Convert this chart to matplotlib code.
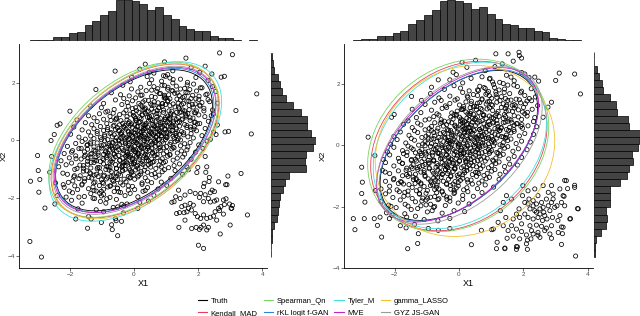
import numpy as np
import matplotlib.pyplot as plt
from matplotlib.patches import Ellipse
from matplotlib.lines import Line2D

plt.rcParams['font.family'] = ['Liberation Sans', 'DejaVu Sans']

methods = ['Truth', 'Kendall_MAD', 'Spearman_Qn', 'rKL logit f-GAN', 'Tyler_M', 'MVE', 'gamma_LASSO', 'GYZ JS-GAN']
colors = ['#000000', '#E8405A', '#77D65B', '#2B83E0', '#3FE0E0', '#CC1FCC', '#F2C12E', '#9A9A9A']

# estimated location / scale / correlation of each method (cx, cy, sdx, sdy, rho)
ell_left = [(0, 0, 1.0, 1.0, 0.5), (0.03, -0.02, 1.07, 1.09, 0.48), (-0.02, 0.02, 1.08, 1.10, 0.47),
            (0.02, 0.0, 1.01, 1.02, 0.5), (0.04, -0.04, 1.10, 1.13, 0.5), (0.03, 0.01, 1.03, 1.03, 0.5),
            (0.05, -0.03, 1.07, 1.10, 0.47), (0.02, 0.0, 1.04, 1.05, 0.5)]
ell_right = [(0, 0, 1.0, 1.0, 0.5), (0.0, -0.02, 1.12, 1.13, 0.24), (-0.02, 0.0, 1.15, 1.15, 0.22),
             (0.0, 0.0, 1.01, 1.01, 0.51), (0.03, 0.0, 1.10, 1.11, 0.27), (-0.04, 0.02, 1.03, 1.03, 0.52),
             (0.19, -0.18, 1.14, 1.14, 0.12), (0.02, 0.0, 1.05, 1.05, 0.48)]

# marginal histogram heights
top_left = [2, 3, 3, 13, 13, 24, 27, 49, 60, 77, 89, 122, 122, 120, 110, 91, 101, 77, 65, 44, 37, 29, 29, 15, 9, 8, 2, 1, 2]
top_right = [2, 5, 5, 14, 14, 25, 29, 50, 62, 78, 92, 119, 122, 120, 113, 95, 101, 80, 66, 50, 47, 39, 38, 29, 26, 8, 5, 2, 3]
side_left = [1, 0, 2, 4, 10, 17, 22, 24, 27, 37, 43, 55, 104, 102, 104, 127, 135, 119, 107, 107, 90, 65, 44, 34, 27, 20, 10, 7, 3]
side_right = [2, 4, 7, 21, 35, 39, 37, 49, 49, 47, 77, 97, 104, 115, 114, 132, 135, 137, 105, 102, 69, 67, 47, 27, 23, 15, 9, 1, 1]
top_left_rng = (-3.25, 3.83)
top_right_rng = (-3.28, 3.79)
side_left_rng = (-4.04, 3.04)
side_right_rng = (-3.60, 3.05)

core_left = [
(0.95,2.72),(1.62,2.85),(0.35,2.64),(1.21,2.41),(0.62,2.33),(1.78,2.52),(1.05,2.28),(2.05,2.36),(0.18,2.47),
(1.45,2.12),(0.86,2.05),(1.93,2.18),(0.41,2.21),(1.12,2.16),(2.31,2.08),(-0.12,2.03),(1.67,2.01),(0.98,2.22),(0.55,2.10),
(1.32,1.88),(0.74,1.79),(1.86,1.95),(0.21,1.84),(1.05,1.77),(2.12,1.82),(-0.35,1.91),(1.58,1.80),(0.48,1.97),(0.95,1.90),(2.45,1.86),(-0.08,1.78),(1.21,1.99),(0.62,1.86),(1.74,1.76),
(0.83,1.62),(1.41,1.55),(0.12,1.68),(1.95,1.71),(0.55,1.52),(1.18,1.73),(-0.42,1.58),(2.28,1.60),(0.95,1.51),(1.62,1.66),(-0.15,1.54),(0.38,1.72),(1.35,1.64),(2.03,1.53),(0.71,1.70),(-0.71,1.65),(1.08,1.58),(1.83,1.56),(0.25,1.57),(2.55,1.69),
(0.45,1.38),(1.12,1.44),(-0.21,1.31),(0.88,1.27),(1.65,1.36),(0.05,1.47),(1.38,1.29),(2.02,1.42),(-0.58,1.40),(0.66,1.49),(1.91,1.26),(0.28,1.33),(1.05,1.35),(-0.95,1.28),(1.52,1.48),(2.36,1.34),(0.75,1.30),(-0.32,1.45),(1.22,1.26),(0.15,1.28),(1.78,1.45),(0.52,1.26),(0.98,1.46),(-0.05,1.37),(2.61,1.29),(1.45,1.40),
(0.35,1.12),(0.92,1.05),(-0.18,1.18),(1.41,1.09),(0.62,1.22),(1.85,1.15),(-0.62,1.07),(1.12,1.20),(0.08,1.03),(2.18,1.11),(0.78,1.14),(-0.38,1.24),(1.58,1.02),(0.45,1.01),(1.28,1.16),(-1.02,1.13),(0.21,1.22),(2.45,1.05),(0.98,1.24),(1.72,1.21),(-0.82,1.01),(0.55,1.08),(1.95,1.02),(-0.05,1.10),(1.18,1.01),(0.72,1.03),(-1.35,1.19),(1.48,1.23),(0.28,1.06),(2.05,1.22),(-0.25,1.04),(0.88,1.18),
(0.25,0.88),(0.71,0.81),(-0.32,0.95),(1.15,0.92),(0.48,0.78),(1.62,0.86),(-0.75,0.83),(0.92,0.97),(0.05,0.76),(1.38,0.79),(-0.12,0.91),(1.92,0.95),(0.62,0.99),(-0.55,0.77),(1.05,0.84),(2.21,0.82),(0.35,0.94),(-1.08,0.92),(1.48,0.98),(0.82,0.76),(-0.22,0.82),(1.75,0.78),(0.15,0.97),(-0.88,0.98),(1.25,0.88),(0.55,0.85),(2.48,0.91),(-1.42,0.85),(0.98,0.79),(-0.45,0.89),(1.68,0.93),(0.42,0.80),(-0.02,0.86),(1.32,0.96),(0.78,0.92),(-1.25,0.78),(2.02,0.88),(0.18,0.79),(1.12,0.77),(-0.65,0.94),
(0.15,0.62),(0.58,0.55),(-0.41,0.68),(0.98,0.71),(0.32,0.52),(1.42,0.64),(-0.85,0.58),(0.75,0.73),(-0.08,0.57),(1.18,0.53),(-0.22,0.71),(1.75,0.69),(0.45,0.66),(-0.62,0.52),(0.88,0.60),(2.05,0.58),(0.22,0.74),(-1.15,0.65),(1.32,0.72),(0.62,0.51),(-0.35,0.59),(1.58,0.55),(0.05,0.70),(-0.95,0.73),(1.05,0.65),(0.38,0.59),(2.32,0.66),(-1.52,0.61),(0.82,0.54),(-0.55,0.74),(1.52,0.74),(0.28,0.56),(-0.15,0.64),(1.22,0.60),(0.68,0.67),(-1.32,0.54),(1.88,0.62),(0.02,0.53),(0.95,0.52),(-0.72,0.69),(1.65,0.51),(-1.78,0.71),(0.52,0.71),(2.6,0.53),(-0.28,0.52),(1.12,0.74),
(0.05,0.38),(0.48,0.31),(-0.52,0.44),(0.88,0.46),(0.22,0.27),(1.32,0.39),(-0.95,0.34),(0.65,0.48),(-0.18,0.32),(1.08,0.28),(-0.32,0.47),(1.65,0.44),(0.35,0.41),(-0.72,0.27),(0.78,0.35),(1.95,0.33),(0.12,0.49),(-1.25,0.40),(1.22,0.47),(0.52,0.26),(-0.45,0.34),(1.48,0.30),(-0.05,0.45),(-1.05,0.48),(0.95,0.40),(0.28,0.34),(2.22,0.41),(-1.62,0.36),(0.72,0.29),(-0.65,0.49),(1.42,0.49),(0.18,0.31),(-0.25,0.39),(1.12,0.35),(0.58,0.42),(-1.42,0.29),(1.78,0.37),(-0.08,0.28),(0.85,0.27),(-0.82,0.44),(1.55,0.26),(-1.88,0.46),(0.42,0.46),(2.48,0.28),(-0.38,0.27),(1.02,0.49),(-1.15,0.31),(0.32,0.39),(1.88,0.48),(-0.58,0.37),
(-0.05,0.12),(0.38,0.06),(-0.62,0.19),(0.78,0.21),(0.12,0.02),(1.22,0.14),(-1.05,0.09),(0.55,0.23),(-0.28,0.07),(0.98,0.03),(-0.42,0.22),(1.55,0.19),(0.25,0.16),(-0.82,0.02),(0.68,0.10),(1.85,0.08),(0.02,0.24),(-1.35,0.15),(1.12,0.22),(0.42,0.01),(-0.55,0.09),(1.38,0.05),(-0.15,0.20),(-1.15,0.23),(0.85,0.15),(0.18,0.09),(2.12,0.16),(-1.72,0.11),(0.62,0.04),(-0.75,0.24),(1.32,0.24),(0.08,0.06),(-0.35,0.14),(1.02,0.10),(0.48,0.17),(-1.52,0.04),(1.68,0.12),(-0.18,0.03),(0.75,0.02),(-0.92,0.19),(1.45,0.01),(-1.98,0.21),(0.32,0.21),(2.38,0.03),(-0.48,0.02),(0.92,0.24),(-1.25,0.06),(0.22,0.14),(1.78,0.23),(-0.68,0.12),(1.25,0.07),(-0.08,0.18),
(-0.15,-0.12),(0.28,-0.06),(-0.72,-0.19),(0.68,-0.21),(0.02,-0.02),(1.12,-0.14),(-1.15,-0.09),(0.45,-0.23),(-0.38,-0.07),(0.88,-0.03),(-0.52,-0.22),(1.45,-0.19),(0.15,-0.16),(-0.92,-0.02),(0.58,-0.10),(1.75,-0.08),(-0.08,-0.24),(-1.45,-0.15),(1.02,-0.22),(0.32,-0.01),(-0.65,-0.09),(1.28,-0.05),(-0.25,-0.20),(-1.25,-0.23),(0.75,-0.15),(0.08,-0.09),(2.02,-0.16),(-1.82,-0.11),(0.52,-0.04),(-0.85,-0.24),(1.22,-0.24),(-0.02,-0.06),(-0.45,-0.14),(0.92,-0.10),(0.38,-0.17),(-1.62,-0.04),(1.58,-0.12),(-0.28,-0.03),(0.65,-0.02),(-1.02,-0.19),(1.35,-0.01),(-2.08,-0.21),(0.22,-0.21),(2.28,-0.03),(-0.58,-0.02),(0.82,-0.24),(-1.35,-0.06),(0.12,-0.14),(1.68,-0.23),(-0.78,-0.12),(1.15,-0.07),(-0.18,-0.18),
(-0.25,-0.38),(0.18,-0.31),(-0.82,-0.44),(0.58,-0.46),(-0.12,-0.27),(1.02,-0.39),(-1.25,-0.34),(0.35,-0.48),(-0.48,-0.32),(0.78,-0.28),(-0.62,-0.47),(1.35,-0.44),(0.05,-0.41),(-1.02,-0.27),(0.48,-0.35),(1.65,-0.33),(-0.18,-0.49),(-1.55,-0.40),(0.92,-0.47),(0.22,-0.26),(-0.75,-0.34),(1.18,-0.30),(-0.35,-0.45),(-1.35,-0.48),(0.65,-0.40),(-0.02,-0.34),(1.92,-0.41),(-1.92,-0.36),(0.42,-0.29),(-0.95,-0.49),(1.12,-0.49),(-0.12,-0.31),(-0.55,-0.39),(0.82,-0.35),(0.28,-0.42),(-1.72,-0.29),(1.48,-0.37),(-0.38,-0.28),(0.55,-0.27),(-1.12,-0.44),(1.25,-0.26),(-2.18,-0.46),(0.12,-0.46),(2.15,-0.28),(-0.68,-0.27),(0.72,-0.49),(-1.45,-0.31),(0.02,-0.39),(1.58,-0.48),(-0.88,-0.37),
(-0.35,-0.62),(0.08,-0.55),(-0.95,-0.68),(0.45,-0.71),(-0.22,-0.52),(0.88,-0.64),(-1.35,-0.58),(0.25,-0.73),(-0.58,-0.57),(0.65,-0.53),(-0.72,-0.71),(1.22,-0.69),(-0.05,-0.66),(-1.12,-0.52),(0.38,-0.60),(1.52,-0.58),(-0.28,-0.74),(-1.65,-0.65),(0.82,-0.72),(0.12,-0.51),(-0.85,-0.59),(1.05,-0.55),(-0.45,-0.70),(-1.45,-0.73),(0.55,-0.65),(-0.12,-0.59),(1.78,-0.66),(-2.02,-0.61),(0.32,-0.54),(-1.05,-0.74),(0.98,-0.74),(-0.18,-0.56),(-0.65,-0.64),(0.72,-0.60),(0.18,-0.67),(-1.82,-0.54),(1.35,-0.62),(-0.48,-0.53),(0.42,-0.52),(-1.22,-0.69),(1.12,-0.51),(-2.28,-0.71),(0.02,-0.71),(-0.78,-0.52),(0.62,-0.74),(-1.55,-0.56),
(-0.45,-0.88),(-0.02,-0.81),(-1.08,-0.95),(0.35,-0.92),(-0.32,-0.78),(0.78,-0.86),(-1.45,-0.83),(0.12,-0.97),(-0.68,-0.76),(0.52,-0.79),(-0.85,-0.91),(1.08,-0.95),(-0.15,-0.99),(-1.25,-0.77),(0.28,-0.84),(1.42,-0.82),(-0.38,-0.92),(-1.78,-0.98),(0.68,-0.98),(0.02,-0.76),(-0.95,-0.82),(0.92,-0.78),(-0.55,-0.97),(-1.58,-0.88),(0.45,-0.85),(-0.22,-0.79),(1.65,-0.93),(-2.12,-0.85),(0.22,-0.80),(-1.15,-0.99),(0.85,-0.92),(-0.28,-0.87),(-0.75,-0.94),(0.58,-0.76),(0.08,-0.91),(-1.95,-0.79),(1.25,-0.88),(-0.58,-0.84),(-1.35,-0.96),(-0.08,-0.86),
(-0.55,-1.12),(-0.12,-1.05),(-1.18,-1.18),(0.22,-1.09),(-0.42,-1.22),(0.65,-1.15),(-1.58,-1.07),(-0.02,-1.20),(-0.78,-1.03),(0.42,-1.11),(-0.95,-1.24),(0.95,-1.02),(-0.28,-1.01),(-1.35,-1.16),(0.15,-1.22),(1.28,-1.05),(-0.65,-1.24),(-1.85,-1.01),(0.55,-1.19),(-0.08,-1.13),(-1.05,-1.10),(0.78,-1.21),(-0.35,-1.06),(-1.68,-1.23),(0.32,-1.04),(1.52,-1.18),(-2.22,-1.14),(-0.88,-1.01),(0.05,-1.03),(-1.25,-1.21),(-0.48,-1.17),(0.88,-1.09),
(-0.68,-1.38),(-0.25,-1.44),(-1.32,-1.31),(0.12,-1.27),(-0.52,-1.36),(0.55,-1.47),(-1.72,-1.33),(-0.12,-1.29),(-0.95,-1.49),(0.35,-1.30),(-1.12,-1.26),(0.85,-1.45),(-0.42,-1.48),(-1.55,-1.42),(0.02,-1.35),(1.15,-1.32),(-0.82,-1.28),(-2.05,-1.46),(0.42,-1.41),(-0.18,-1.26),(-1.22,-1.45),(0.68,-1.28),(-0.58,-1.29),(-1.88,-1.27),(0.25,-1.48),(-1.02,-1.37),
(-0.82,-1.62),(-0.35,-1.55),(-1.42,-1.68),(0.02,-1.71),(-0.62,-1.52),(0.42,-1.64),(-1.85,-1.58),(-0.18,-1.73),(-1.08,-1.57),(0.25,-1.53),(-1.25,-1.74),(0.75,-1.69),(-0.52,-1.66),(-1.62,-1.52),(-0.05,-1.60),(1.02,-1.56),(-0.95,-1.70),(-2.18,-1.63),(0.35,-1.74),(-0.75,-1.58),
(-0.95,-1.88),(-0.48,-1.79),(-1.55,-1.95),(-0.12,-1.84),(-0.75,-1.98),(0.28,-1.77),(-1.92,-1.82),(-0.28,-1.92),(-1.18,-1.76),(0.12,-1.96),(-1.35,-1.85),(0.62,-1.91),(-0.62,-1.78),(-2.12,-1.97),(-1.02,-1.93),
(-1.05,-2.12),(-0.55,-2.05),(-1.62,-2.18),(-0.22,-2.21),(-0.85,-2.03),(0.18,-2.15),(-1.95,-2.08),(-0.38,-2.22),(-1.28,-2.01),(0.45,-2.11),
(-1.18,-2.41),(-0.65,-2.33),(-1.75,-2.38),(-0.32,-2.28),(-0.95,-2.48),(0.12,-2.36),(-1.42,-2.65),(-0.58,-2.72),(-1.02,-2.85)]

core_left2 = [
(0.73,0.41),(-0.36,-0.87),(1.27,1.63),(-0.91,0.14),(0.04,-0.33),(0.56,1.22),(-1.48,-1.06),(1.84,0.77),(-0.17,0.58),(0.39,-0.71),(-0.64,-1.42),(1.03,0.09),(-1.21,-0.38),(0.87,1.91),(-0.03,0.96),(0.21,-1.17),(1.52,1.05),(-0.79,-0.19),(0.66,0.27),(-1.63,-1.55),(0.12,0.35),(1.36,0.62),(-0.47,-0.02),(-1.07,-1.84),(0.94,1.47),(-0.26,-0.56),(0.48,0.83),(1.71,1.36),(-1.34,-0.77),(0.31,-0.14),(-0.58,0.71),(1.16,0.48),(-0.13,-1.31),(0.79,0.03),(-1.86,-1.23),(2.06,1.19),(-0.39,0.22),(0.58,-0.42),(-0.97,-0.63),(1.45,1.78),(0.07,0.68),(-0.71,-1.09),(1.09,1.02),(-1.28,-1.62),(0.36,0.53),(0.92,-0.26),(-0.22,0.11),(1.61,0.91),(-1.52,-0.51),(0.17,-0.58),(-0.83,0.37),(2.24,1.58),(0.63,1.33),(-0.09,-0.81),(1.28,0.24),(-1.13,-0.94),(0.44,0.06),(-0.52,-1.66),(1.82,1.24),(0.02,-0.21),(-1.69,-0.86),(0.83,0.61),(-0.31,0.44),(1.21,1.71),(-0.86,-1.34),(0.27,0.88),(1.98,0.57),(-0.66,-0.31),(0.52,-0.93),(-1.41,-1.29),(1.39,1.15),(-0.18,0.29),(0.71,0.93),(-1.02,0.02),(0.14,-0.47),(1.57,1.52),(-0.44,-0.69),(0.98,0.38),(-1.76,-1.71),(0.33,1.08),
(-0.27,-0.11),(0.61,0.19),(-1.17,-0.71),(1.13,0.84),(0.09,0.47),(-0.62,-0.48),(1.49,0.71),(-0.04,-0.63),(0.41,0.99),(-1.38,-1.13),(0.86,0.16),(-0.49,0.33),(1.72,1.06),(0.24,-0.27),(-0.93,-1.21),(1.06,1.38),(-0.15,0.07),(0.54,-0.16),(-1.58,-0.97),(1.31,0.43),(0.02,0.81),(-0.75,-0.76),(0.77,1.12),(-0.33,-0.36),(1.93,1.44),(0.46,0.22),(-1.09,-0.27),(0.19,0.64),(-0.55,-0.99),(1.24,0.66),(-0.07,-0.04),(0.67,-0.08),(-1.26,-1.48),(1.54,1.27),(0.29,0.42),(-0.84,-0.53),(0.96,0.73),(-0.41,0.08),(2.12,1.31),(0.11,-0.87),(-1.44,-0.62),(0.74,0.51),(-0.21,-0.42),(1.43,0.97),(-0.68,-0.07),(0.37,-0.36),(-1.91,-1.41),(1.02,0.26),(-0.12,0.52),(0.58,0.69),(-0.99,-1.46),(1.68,1.65),(0.16,0.19),(-0.36,-1.04),(0.89,1.27),(-1.32,-0.46),(0.43,-0.22),(1.19,0.34),(-0.59,-0.24),(0.06,0.16),(-0.81,-0.92),(1.34,1.43),(0.53,0.39),(-0.24,-0.74),(0.81,0.31),(-1.54,-1.33),(1.62,0.81),(-0.02,0.26),(0.38,-0.61),(-0.72,-1.26),(1.11,0.59),(0.26,1.16),(-1.19,-0.58),(0.69,0.12),(-0.46,0.53),(1.88,0.96),(-0.11,-0.52),(0.95,1.56),(-0.89,-0.41),(0.31,0.12),
(-1.65,-0.28),(1.76,0.46),(-0.42,-1.81),(0.55,1.74),(-2.08,-1.18),(2.18,1.02),(-1.23,-2.02),(1.22,2.11),(-0.18,-1.58),(0.21,1.56),(-1.81,-0.64),(1.91,0.63),(-0.74,-1.59),(0.79,1.62),(-2.21,-1.54),(2.31,1.41),(-1.02,-1.77),(1.06,1.84),(-1.47,-0.18),(1.42,0.21),(-0.31,-1.35),(0.34,1.39),(-2.35,-0.92),(2.41,0.85),(-0.88,-2.18),(0.92,2.24),(-1.72,-1.97),(1.66,1.92),(-0.07,-1.09),(0.05,1.13),(-1.95,-0.41),(1.87,0.39),(-0.51,-2.31),(0.48,2.36),(-1.36,-0.12),(1.31,0.16),(-2.02,-1.76),(2.07,1.82),(-0.95,-0.16),(0.99,0.12)]

edge_left = [(2.67,3.03),(3.07,2.97),(2.22,2.57),(2.43,2.30),(2.72,2.19),(2.82,2.22),(3.83,1.61),(3.18,1.03),(2.95,0.31),(2.84,0.29),(3.66,0.22),(2.56,0.20),(2.22,-0.56),(1.99,-0.94),(1.70,-1.02),
(-3.25,-3.51),(-2.89,-4.05),(-3.01,-0.53),(-2.99,-1.05),(-3.23,-1.42),(-2.94,-1.36),(-2.97,-1.80),(-2.78,-2.35),(-2.63,-1.11),(-2.57,-0.56),(-2.59,-0.01),(-2.49,0.20),(-2.40,0.52),(-2.31,0.57),(-2.45,-1.48),(-2.39,-1.92),(-2.47,-2.21),(-1.82,-2.73),(-1.45,-3.05),(-1.34,-2.73),(-0.70,-2.93),(-0.68,-3.10),(-0.51,-3.31),(-0.39,-2.81),(-0.56,-2.79),(-0.33,-2.52),(-0.59,2.40),(-0.07,2.19),(-1.19,1.76),(-2.0,1.01)]

clus_left = [(3.34,-1.15),(2.93,-1.24),(2.86,-1.54),(2.90,-1.54),(2.64,-1.44),(2.35,-1.29),(2.34,-1.43),(2.19,-1.49),(2.17,-1.61),(2.24,-1.11),(1.96,-1.12),(2.27,-0.92),(2.44,-1.73),(2.51,-1.78),(2.38,-1.82),(2.08,-1.84),(2.22,-1.89),(2.04,-1.98),(2.32,-2.02),(2.17,-2.13),(2.38,-2.14),(2.51,-2.11),(2.58,-2.07),(2.79,-2.07),(2.87,-2.03),(2.98,-2.21),(3.07,-2.26),(3.03,-2.36),(2.82,-2.23),(2.71,-2.30),(2.64,-2.36),(2.67,-2.44),(2.53,-2.48),(2.79,-2.56),(2.48,-2.63),(2.38,-2.67),(2.27,-2.71),(2.17,-2.59),(2.08,-2.71),(1.98,-2.65),(1.91,-2.54),(1.79,-2.42),(1.70,-2.36),(1.65,-2.48),(1.56,-2.51),(1.42,-2.51),(1.33,-2.54),(1.59,-2.77),(1.40,-3.02),(1.80,-3.06),(1.94,-3.02),(2.04,-3.09),(2.09,-3.02),(2.17,-2.94),(2.32,-3.02),(2.27,-3.11),(2.58,-2.77),(2.69,-3.25),(3.0,-2.94),(3.54,-2.59),(3.05,-2.36),(2.01,-3.64),(2.17,-3.75),(1.59,-2.25),(1.49,-2.30),(1.75,-2.19),(1.85,-2.25),(1.44,-2.02),(1.59,-1.90),(1.75,-1.78),(1.91,-1.84),(1.25,-2.13),(1.30,-1.96),(1.39,-1.73),(1.18,-2.15)]

core_right = [
(0.52,2.78),(1.35,2.66),(1.88,2.93),(0.82,2.44),(1.48,2.29),(0.25,2.55),(1.95,2.38),(1.12,2.57),(-0.08,2.31),
(1.05,2.07),(0.38,2.19),(1.72,2.11),(0.72,2.24),(-0.28,2.14),(1.38,2.02),(2.18,2.22),(0.12,2.04),(0.95,2.17),(1.62,2.23),
(0.65,1.93),(1.25,1.81),(0.05,1.87),(1.82,1.92),(0.92,1.76),(-0.45,1.83),(1.52,1.97),(0.32,1.78),(2.25,1.85),(1.08,1.99),(-0.15,1.95),(0.58,1.81),(1.95,1.77),(0.78,1.89),(1.42,1.84),
(0.45,1.66),(1.02,1.54),(-0.28,1.61),(1.58,1.69),(0.72,1.52),(0.12,1.73),(1.32,1.59),(2.05,1.63),(-0.62,1.55),(0.88,1.71),(1.78,1.51),(0.28,1.57),(1.15,1.74),(-0.05,1.52),(2.38,1.58),(0.58,1.63),(1.45,1.53),(-0.88,1.69),(0.95,1.62),(1.92,1.72),
(0.22,1.42),(0.85,1.35),(-0.42,1.29),(1.28,1.46),(0.55,1.27),(1.72,1.33),(-0.12,1.48),(1.05,1.31),(2.12,1.45),(0.38,1.36),(-0.75,1.41),(1.48,1.28),(0.72,1.49),(0.02,1.32),(1.92,1.39),(-1.05,1.34),(1.18,1.41),(0.45,1.26),(2.45,1.30),(-0.28,1.37),(0.95,1.44),(1.62,1.48),(0.15,1.27),(-0.55,1.47),(1.38,1.36),(0.65,1.40),
(0.08,1.17),(0.62,1.08),(-0.52,1.21),(1.18,1.04),(0.35,1.23),(1.55,1.13),(-0.22,1.06),(0.88,1.19),(1.98,1.09),(-0.85,1.15),(0.45,1.02),(1.32,1.24),(-0.05,1.12),(0.75,1.01),(2.28,1.18),(-1.18,1.07),(1.05,1.14),(0.22,1.09),(1.72,1.22),(-0.38,1.24),(0.55,1.16),(1.42,1.01),(-0.68,1.03),(0.95,1.23),(2.05,1.03),(0.15,1.20),(-1.45,1.18),(1.22,1.11),(0.68,1.21),(-0.15,1.01),(1.85,1.16),(0.38,1.11),
(0.02,0.92),(0.48,0.84),(-0.45,0.79),(0.95,0.96),(0.18,0.77),(1.38,0.88),(-0.78,0.94),(0.72,0.81),(1.72,0.97),(-0.18,0.86),(1.08,0.76),(0.32,0.98),(-1.05,0.83),(1.52,0.79),(0.58,0.93),(-0.32,0.77),(1.95,0.85),(0.85,0.87),(-0.62,0.99),(0.12,0.82),(1.25,0.95),(2.32,0.78),(-1.32,0.91),(0.42,0.76),(1.02,0.91),(-0.08,0.97),(1.62,0.83),(0.65,0.78),(-0.92,0.86),(1.85,0.93),(0.25,0.89),(-1.58,0.80),(1.18,0.82),(0.78,0.99),(-0.25,0.93),(2.12,0.96),(0.52,0.88),(-0.55,0.84),(1.45,0.94),(0.05,0.79),
(-0.12,0.66),(0.35,0.58),(-0.58,0.72),(0.82,0.54),(0.05,0.69),(1.22,0.62),(-0.92,0.55),(0.58,0.73),(1.58,0.59),(-0.35,0.52),(0.95,0.68),(0.18,0.56),(-1.18,0.67),(1.38,0.74),(0.45,0.51),(-0.48,0.63),(1.82,0.71),(0.72,0.57),(-0.75,0.74),(-0.02,0.53),(1.12,0.55),(2.15,0.64),(-1.45,0.58),(0.28,0.71),(0.88,0.61),(-0.22,0.74),(1.48,0.52),(0.52,0.65),(-1.05,0.51),(1.72,0.66),(0.12,0.62),(-1.72,0.69),(1.05,0.73),(0.65,0.52),(-0.38,0.68),(1.98,0.56),(0.38,0.66),(-0.65,0.56),(1.32,0.58),(-0.08,0.59),(0.78,0.71),(-1.28,0.73),(2.42,0.61),(0.22,0.53),(1.65,0.74),(-0.85,0.62),
(-0.22,0.41),(0.25,0.33),(-0.68,0.47),(0.72,0.29),(-0.05,0.44),(1.12,0.37),(-1.02,0.30),(0.48,0.48),(1.48,0.34),(-0.45,0.27),(0.85,0.43),(0.08,0.31),(-1.28,0.42),(1.28,0.49),(0.35,0.26),(-0.58,0.38),(1.72,0.46),(0.62,0.32),(-0.85,0.49),(-0.12,0.28),(1.02,0.30),(2.05,0.39),(-1.55,0.33),(0.18,0.46),(0.78,0.36),(-0.32,0.49),(1.38,0.27),(0.42,0.40),(-1.15,0.26),(1.62,0.41),(0.02,0.37),(-1.82,0.44),(0.95,0.48),(0.55,0.27),(-0.48,0.43),(1.88,0.31),(0.28,0.41),(-0.75,0.31),(1.22,0.33),(-0.18,0.34),(0.68,0.46),(-1.38,0.48),(2.32,0.36),(0.12,0.28),(1.55,0.49),(-0.95,0.37),(0.92,0.26),(-2.02,0.29),(0.38,0.45),(-0.62,0.26),
(-0.32,0.16),(0.15,0.08),(-0.78,0.22),(0.62,0.04),(-0.15,0.19),(1.02,0.12),(-1.12,0.05),(0.38,0.23),(1.38,0.09),(-0.55,0.02),(0.75,0.18),(-0.02,0.06),(-1.38,0.17),(1.18,0.24),(0.25,0.01),(-0.68,0.13),(1.62,0.21),(0.52,0.07),(-0.95,0.24),(-0.22,0.03),(0.92,0.05),(1.95,0.14),(-1.65,0.08),(0.08,0.21),(0.68,0.11),(-0.42,0.24),(1.28,0.02),(0.32,0.15),(-1.25,0.01),(1.52,0.16),(-0.08,0.12),(-1.92,0.19),(0.85,0.23),(0.45,0.02),(-0.58,0.18),(1.78,0.06),(0.18,0.16),(-0.85,0.06),(1.12,0.08),(-0.28,0.09),(0.58,0.21),(-1.48,0.23),(2.22,0.11),(0.02,0.03),(1.45,0.24),(-1.05,0.12),(0.82,0.01),(-2.12,0.04),(0.28,0.20),(-0.72,0.01),(1.05,0.19),(-0.38,0.07),
(-0.42,-0.09),(0.05,-0.17),(-0.88,-0.03),(0.52,-0.21),(-0.25,-0.06),(0.92,-0.13),(-1.22,-0.20),(0.28,-0.02),(1.28,-0.16),(-0.65,-0.23),(0.65,-0.07),(-0.12,-0.19),(-1.48,-0.08),(1.08,-0.01),(0.15,-0.24),(-0.78,-0.12),(1.52,-0.04),(0.42,-0.18),(-1.05,-0.01),(-0.32,-0.22),(0.82,-0.20),(1.85,-0.11),(-1.75,-0.17),(-0.02,-0.04),(0.58,-0.14),(-0.52,-0.01),(1.18,-0.23),(0.22,-0.10),(-1.35,-0.24),(1.42,-0.09),(-0.18,-0.13),(-2.02,-0.06),(0.75,-0.02),(0.35,-0.23),(-0.68,-0.07),(1.68,-0.19),(0.08,-0.09),(-0.95,-0.19),(1.02,-0.17),(-0.38,-0.16),(0.48,-0.04),(-1.58,-0.02),(2.12,-0.14),(-0.08,-0.22),(1.35,-0.01),(-1.15,-0.13),(0.72,-0.24),(-2.22,-0.21),(0.18,-0.05),(-0.82,-0.24),(0.95,-0.06),(-0.48,-0.18),
(-0.55,-0.34),(-0.08,-0.42),(-1.02,-0.28),(0.38,-0.46),(-0.38,-0.31),(0.78,-0.38),(-1.35,-0.45),(0.15,-0.27),(1.15,-0.41),(-0.78,-0.48),(0.52,-0.32),(-0.25,-0.44),(-1.62,-0.33),(0.95,-0.26),(0.02,-0.49),(-0.92,-0.37),(1.38,-0.29),(0.28,-0.43),(-1.18,-0.26),(-0.45,-0.47),(0.68,-0.45),(1.72,-0.36),(-1.88,-0.42),(-0.15,-0.29),(0.45,-0.39),(-0.65,-0.26),(1.05,-0.48),(0.08,-0.35),(-1.48,-0.49),(1.28,-0.34),(-0.32,-0.38),(-2.15,-0.31),(0.62,-0.27),(0.22,-0.48),(-0.82,-0.32),(1.55,-0.44),(-0.05,-0.34),(-1.08,-0.44),(0.88,-0.42),(-0.52,-0.41),(0.35,-0.29),(-1.72,-0.27),(1.95,-0.39),(-0.22,-0.47),(1.22,-0.26),(-1.28,-0.38),(0.58,-0.49),(-2.35,-0.46),(0.05,-0.30),(-0.95,-0.49),
(-0.68,-0.59),(-0.22,-0.67),(-1.15,-0.53),(0.25,-0.71),(-0.52,-0.56),(0.65,-0.63),(-1.48,-0.70),(0.02,-0.52),(1.02,-0.66),(-0.92,-0.73),(0.38,-0.57),(-0.38,-0.69),(-1.75,-0.58),(0.82,-0.51),(-0.12,-0.74),(-1.05,-0.62),(1.25,-0.54),(0.15,-0.68),(-1.32,-0.51),(-0.58,-0.72),(0.55,-0.70),(1.58,-0.61),(-2.02,-0.67),(-0.28,-0.54),(0.32,-0.64),(-0.78,-0.51),(0.92,-0.73),(-0.05,-0.60),(-1.62,-0.74),(1.15,-0.59),(-0.45,-0.63),(-2.28,-0.56),(0.48,-0.52),(0.08,-0.73),(-0.95,-0.57),(1.42,-0.69),(-0.18,-0.59),(-1.22,-0.69),(0.75,-0.67),(-0.65,-0.66),(0.22,-0.54),(-1.85,-0.52),(1.82,-0.64),(-0.35,-0.72),(1.08,-0.51),(-1.42,-0.63),
(-0.82,-0.84),(-0.35,-0.92),(-1.28,-0.78),(0.12,-0.96),(-0.65,-0.81),(0.52,-0.88),(-1.62,-0.95),(-0.12,-0.77),(0.88,-0.91),(-1.05,-0.98),(0.25,-0.82),(-0.52,-0.94),(-1.88,-0.83),(0.68,-0.76),(-0.25,-0.99),(-1.18,-0.87),(1.12,-0.79),(0.02,-0.93),(-1.45,-0.76),(-0.72,-0.97),(0.42,-0.95),(1.45,-0.86),(-2.15,-0.92),(-0.42,-0.79),(0.18,-0.89),(-0.92,-0.76),(0.78,-0.98),(-0.18,-0.85),(-1.75,-0.99),(1.02,-0.84),(-0.58,-0.88),(-2.38,-0.81),(0.35,-0.77),(-0.05,-0.98),(-1.08,-0.82),(1.28,-0.94),(-0.32,-0.84),(-1.35,-0.94),(0.62,-0.92),(-0.78,-0.91),
(-0.95,-1.09),(-0.48,-1.17),(-1.42,-1.03),(-0.02,-1.21),(-0.78,-1.06),(0.38,-1.13),(-1.78,-1.20),(-0.25,-1.02),(0.72,-1.16),(-1.18,-1.23),(0.12,-1.07),(-0.65,-1.19),(-2.02,-1.08),(0.55,-1.01),(-0.38,-1.24),(-1.32,-1.12),(0.95,-1.04),(-0.12,-1.18),(-1.58,-1.01),(-0.85,-1.22),(0.28,-1.20),(1.25,-1.11),(-2.28,-1.17),(-0.55,-1.04),(0.05,-1.14),(-1.05,-1.01),(0.62,-1.23),(-0.32,-1.10),(-1.88,-1.24),(0.85,-1.09),(-0.72,-1.13),(-1.25,-1.18),
(-1.08,-1.34),(-0.62,-1.42),(-1.55,-1.28),(-0.15,-1.46),(-0.88,-1.31),(0.25,-1.38),(-1.92,-1.45),(-0.38,-1.27),(0.58,-1.41),(-1.32,-1.48),(-0.02,-1.32),(-0.75,-1.44),(-2.15,-1.33),(0.42,-1.26),(-0.52,-1.49),(-1.45,-1.37),(0.82,-1.29),(-0.25,-1.43),(-1.72,-1.26),(-0.98,-1.47),(0.15,-1.45),(1.08,-1.36),(-2.42,-1.42),(-0.68,-1.29),(-0.08,-1.39),(-1.18,-1.26),
(-1.22,-1.59),(-0.75,-1.67),(-1.68,-1.53),(-0.28,-1.71),(-1.02,-1.56),(0.12,-1.63),(-2.05,-1.70),(-0.52,-1.52),(0.45,-1.66),(-1.45,-1.73),(-0.15,-1.57),(-0.88,-1.69),(-2.28,-1.58),(0.28,-1.51),(-0.62,-1.74),(-1.58,-1.62),(0.72,-1.54),(-0.38,-1.68),(-1.85,-1.51),(-1.12,-1.72),
(-1.35,-1.84),(-0.88,-1.92),(-1.82,-1.78),(-0.42,-1.96),(-1.15,-1.81),(-0.02,-1.88),(-2.18,-1.95),(-0.65,-1.77),(0.32,-1.91),(-1.58,-1.98),(-0.28,-1.82),(-1.02,-1.94),(-2.42,-1.83),(0.12,-1.76),(-0.75,-1.99),
(-1.48,-2.09),(-0.98,-2.17),(-1.95,-2.03),(-0.52,-2.21),(-1.28,-2.06),(-0.15,-2.13),(-2.25,-2.20),(-0.78,-2.02),(0.18,-2.16),(-1.68,-2.23),
(-1.62,-2.34),(-1.08,-2.42),(-2.08,-2.28),(-0.65,-2.46),(-1.35,-2.31),(-0.28,-2.38),(-1.82,-2.62),(-0.95,-2.71),(-1.38,-2.58)]

core_right2 = [
(0.64,0.52),(-0.41,-0.79),(1.18,1.57),(-0.86,0.21),(0.09,-0.26),(0.49,1.28),(-1.41,-1.12),(1.79,0.71),(-0.12,0.63),(0.44,-0.66),(-0.69,-1.37),(1.08,0.15),(-1.16,-0.33),(0.82,1.86),(-0.08,1.01),(0.26,-1.12),(1.47,1.11),(-0.73,-0.14),(0.71,0.33),(-1.58,-1.49),(0.17,0.41),(1.31,0.57),(-0.52,-0.07),(-1.02,-1.78),(0.89,1.42),(-0.31,-0.51),(0.43,0.89),(1.66,1.31),(-1.29,-0.72),(0.36,-0.09),(-0.53,0.76),(1.21,0.53),(-0.18,-1.26),(0.74,0.08),(-1.81,-1.18),(2.01,1.24),(-0.34,0.27),(0.63,-0.37),(-0.92,-0.58),(1.41,1.73),(0.12,0.73),(-0.66,-1.04),(1.14,0.97),(-1.23,-1.57),(0.31,0.58),(0.97,-0.21),(-0.27,0.16),(1.56,0.86),(-1.47,-0.46),(0.22,-0.53),(-0.78,0.42),(2.19,1.53),(0.58,1.38),(-0.14,-0.76),(1.33,0.29),(-1.08,-0.89),(0.49,0.11),(-0.47,-1.61),(1.77,1.29),(0.07,-0.16),(-1.64,-0.81),(0.88,0.66),(-0.26,0.49),(1.16,1.66),(-0.81,-1.29),(0.32,0.83),(1.93,0.62),(-0.61,-0.26),(0.57,-0.88),(-1.36,-1.24),(1.44,1.21),(-0.23,0.34),(0.76,0.98),(-0.97,0.07),(0.19,-0.42),(1.52,1.47),(-0.39,-0.64),(1.03,0.43),(-1.71,-1.66),(0.28,1.03),
(-0.32,-0.06),(0.56,0.24),(-1.12,-0.66),(1.08,0.89),(0.14,0.52),(-0.57,-0.43),(1.44,0.76),(-0.09,-0.58),(0.36,1.04),(-1.33,-1.08),(0.91,0.21),(-0.44,0.38),(1.67,1.11),(0.29,-0.22),(-0.88,-1.16),(1.01,1.33),(-0.21,0.12),(0.59,-0.11),(-1.53,-0.92),(1.26,0.48),(0.07,0.86),(-0.71,-0.71),(0.72,1.17),(-0.38,-0.31),(1.88,1.49),(0.51,0.27),(-1.04,-0.22),(0.24,0.69),(-0.51,-0.94),(1.19,0.71),(-0.02,0.01),(0.62,-0.03),(-1.21,-1.43),(1.49,1.32),(0.34,0.47),(-0.79,-0.48),(0.92,0.78),(-0.36,0.13),(2.07,1.36),(0.16,-0.82),
(-1.61,-0.22),(1.71,0.52),(-0.37,-1.76),(0.61,1.79),(-2.03,-1.12),(2.13,1.08),(-1.18,-1.97),(1.27,2.06),(-0.13,-1.53),(0.26,1.61),(-1.76,-0.59),(1.96,0.68),(-0.69,-1.54),(0.84,1.67),(-2.16,-1.49),(2.26,1.46),(-0.97,-1.72),(1.11,1.89),(-1.42,-0.13),(1.47,0.26),(-0.26,-1.31),(0.39,1.44),(-2.29,-0.87),(2.36,0.91),(-0.83,-2.13),(0.97,2.19),(-1.67,-1.92),(1.71,1.97),(-0.02,-1.04),(0.11,1.18)]

edge_right = [(1.15,2.99),(1.53,2.99),(1.87,3.04),(1.95,2.85),(1.69,2.75),(2.05,2.33),(0.10,2.71),(-0.18,2.39),(-0.64,2.14),(2.36,2.23),(2.48,2.10),(3.12,2.36),(3.60,2.33),(3.01,2.12),(3.78,1.68),(2.88,1.41),(2.77,1.25),(2.62,0.92),
(-2.82,0.27),(-2.61,-0.33),(-3.02,-0.71),(-3.0,-1.20),(-2.59,-1.47),(-3.02,-1.57),(-2.92,-1.85),(-3.28,-2.39),(-2.94,-2.39),(-2.63,-2.39),(-2.45,-2.34),(-3.23,-2.75),(-2.53,-2.61),(-2.40,-2.99),(-2.16,-2.39),(-2.11,-1.99),(-2.01,1.01),(-2.09,0.92),(-1.47,1.60),(-1.16,1.47),(-0.85,1.90),
(-1.59,-3.37),(-1.28,-3.20),(-1.64,-2.69),(-1.26,-2.88),(-0.64,-2.77),(-0.28,-2.71),(0.39,-3.24),(0.70,-2.77),(1.02,-2.75),(1.17,-3.37),(1.43,-3.37),(1.82,-3.31),(1.79,-3.39),(2.13,-3.39),(2.46,-2.93),(2.13,-3.09),(3.19,-2.66),(3.22,-2.88),
(3.29,-1.14),(3.60,-1.30),(3.38,-1.41),(3.27,-1.66),(3.69,-2.06),(3.47,-2.39),(3.63,-3.61),(3.19,-3.23)]

clus_right = [(2.05,-1.86),(2.15,-1.91),(2.31,-1.80),(2.41,-1.91),(2.57,-1.86),(2.72,-1.75),(2.88,-1.86),(2.21,-2.07),(2.36,-2.13),(2.52,-2.07),(2.64,-2.18),(2.83,-2.13),(2.98,-2.02),(2.05,-2.24),(1.89,-2.35),(2.15,-2.35),(2.31,-2.40),(2.46,-2.35),(2.60,-2.45),(2.74,-2.40),(2.91,-2.35),(3.08,-2.45),(1.95,-2.56),(2.21,-2.62),(2.41,-2.60),(2.57,-2.64),(2.72,-2.70),(2.88,-2.62),(2.26,-2.78),(2.46,-2.84),(2.67,-2.78),(2.83,-2.89),(2.10,-2.92),(1.95,-2.81),(1.79,-2.73),(1.64,-2.62),(1.53,-2.78),(1.69,-2.96),(1.50,-3.03),(1.89,-3.05),(2.24,-3.05),(2.52,-3.00),(2.88,-3.03),(3.09,-2.84),(3.24,-2.67),(3.14,-2.29),(3.05,-1.97),(2.93,-1.75),(3.19,-1.86),(3.29,-1.97),(3.45,-2.40),(3.71,-2.07),(3.60,-1.37),(3.34,-1.15),(1.79,-2.24),(1.69,-2.40),(1.87,-2.07),(1.98,-1.64),(1.64,-1.75),(1.48,-1.64),(1.38,-1.86),(1.29,-2.13),(1.46,-2.35),(1.22,-2.51),(1.38,-2.62),(1.07,-2.73),(1.19,-3.16),(1.43,-3.35),(1.79,-3.30),(2.10,-3.21),(2.31,-2.89),(2.41,-2.18),(2.31,-1.97),(2.52,-2.24),(2.67,-2.29),(2.18,-1.75),(2.78,-1.97),(2.62,-2.02),(2.46,-1.64),(2.78,-1.53),(2.93,-1.59),(2.36,-1.42),(2.15,-1.48),(1.99,-1.31),(2.62,-1.31),(3.14,-1.42),(2.88,-1.31),(3.24,-1.64)]


def draw_panel(ax, axt, axs, pts, ell, xlim, ylim, tc, trng, sc, srng, ylab_x):
    x = [p[0] for p in pts]
    y = [p[1] for p in pts]
    ax.scatter(x, y, s=9, facecolors='none', edgecolors='black', linewidths=0.55, zorder=1)
    k = np.sqrt(5.991)
    for (cx, cy, sx, sy, r), c in zip(ell, colors):
        cov = np.array([[sx * sx, r * sx * sy], [r * sx * sy, sy * sy]])
        vals, vecs = np.linalg.eigh(cov)
        ang = np.degrees(np.arctan2(vecs[1, 1], vecs[0, 1]))
        ax.add_patch(Ellipse((cx, cy), 2 * k * np.sqrt(vals[1]), 2 * k * np.sqrt(vals[0]), angle=ang,
                             fill=False, ec=c, lw=0.6, zorder=2))
    ax.set_xlim(xlim)
    ax.set_ylim(ylim)
    ax.set_xticks([-2, 0, 2, 4])
    ax.set_yticks([-4, -2, 0, 2])
    for s in ['top', 'right']:
        ax.spines[s].set_visible(False)
    for s in ['left', 'bottom']:
        ax.spines[s].set_linewidth(0.6)
    ax.tick_params(length=2, width=0.5, labelsize=4.6, labelcolor='#4D4D4D', color='#333333', pad=1)
    ax.set_xlabel('X1', fontsize=6.5, labelpad=1)
    ax.set_ylabel('X2', fontsize=6)
    ax.yaxis.set_label_coords(ylab_x, 0.5)

    e = np.linspace(trng[0], trng[1], len(tc) + 1)
    axt.bar(e[:-1], tc, width=np.diff(e), align='edge', color='#444444', edgecolor='black', lw=0.5)
    axt.set_xlim(xlim)
    axt.set_ylim(0, max(tc))
    axt.axis('off')

    e = np.linspace(srng[0], srng[1], len(sc) + 1)
    axs.barh(e[:-1], sc, height=np.diff(e), align='edge', color='#444444', edgecolor='black', lw=0.5)
    axs.set_ylim(ylim)
    axs.set_xlim(0, max(sc))
    axs.axis('off')


fig = plt.figure(figsize=(6.4, 3.16), dpi=100)
W, H = 640.0, 316.0

def box(x0, y0, x1, y1):
    return [x0 / W, 1 - y1 / H, (x1 - x0) / W, (y1 - y0) / H]

axL = fig.add_axes(box(19, 44, 267, 268))
axLt = fig.add_axes(box(19, 0, 267, 41))
axLs = fig.add_axes(box(271, 44, 316, 268))
axR = fig.add_axes(box(344, 44, 593, 268))
axRt = fig.add_axes(box(344, 0, 593, 41))
axRs = fig.add_axes(box(594, 44, 640, 268))

draw_panel(axL, axLt, axLs, core_left + core_left2 + edge_left + clus_left, ell_left, (-3.59, 4.15), (-4.43, 3.34),
           top_left, top_left_rng, side_left, side_left_rng, -0.045)
draw_panel(axR, axRt, axRs, core_right + core_right2 + edge_right + clus_right, ell_right, (-3.57, 4.17), (-3.96, 3.31),
           top_right, top_right_rng, side_right, side_right_rng, -0.07)

handles = [Line2D([], [], color=c, lw=0.8) for c in colors]
fig.legend(handles, methods, ncol=4, loc='lower center', bbox_to_anchor=(0.505, -0.025), frameon=False,
           fontsize=5.5, handlelength=1.2, columnspacing=0.8, handletextpad=0.5, labelspacing=0.6)

fig.savefig('out.png', dpi=100)
